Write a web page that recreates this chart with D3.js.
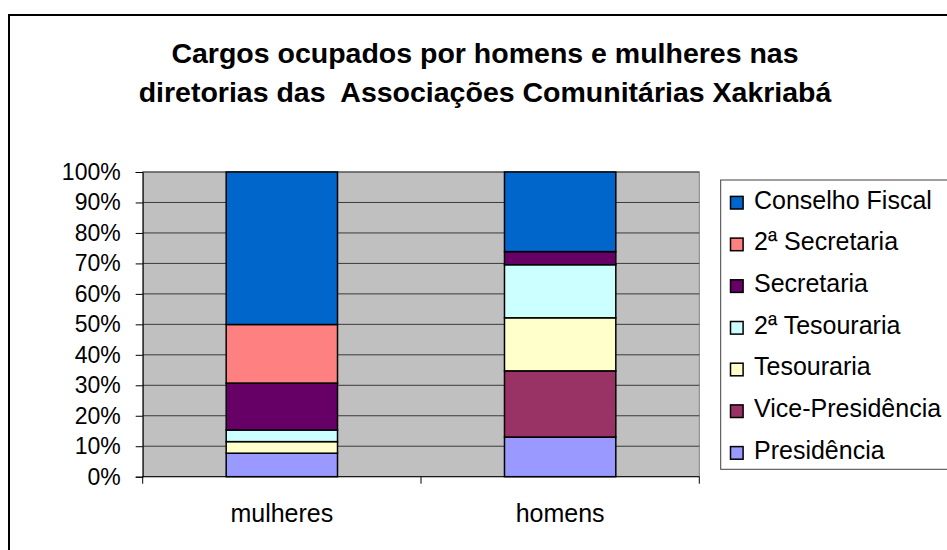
<!DOCTYPE html>
<html>
<head>
<meta charset="utf-8">
<script src="https://cdn.jsdelivr.net/npm/d3@7"></script>
<style>
  body { margin: 0; background: #fff; }
  svg { display: block; font-family: "Liberation Sans", Arial, sans-serif; }
</style>
</head>
<body>
<div id="chart_wrapper"></div>
<script>
// values, in percent (each bar sums to ~100)
const categories = ["mulheres", "homens"];
const cargos = ["Presidência", "Vice-Presidência", "Tesouraria", "2ª Tesouraria", "Secretaria", "2ª Secretaria", "Conselho Fiscal"];
const mulheres = [7.7, 0, 3.8, 3.8, 15.4, 19.2, 50.0];
const homens = [13.0, 21.7, 17.4, 17.4, 4.3, 0, 26.1];
const cargoColors = ["#9999FF", "#993366", "#FFFFCC", "#CCFFFF", "#660066", "#FF8080", "#0066CC"];
const yTicks = [0, 0.1, 0.2, 0.3, 0.4, 0.5, 0.6, 0.7, 0.8, 0.9, 1];
const titleLines = ["Cargos ocupados por homens e mulheres nas", "diretorias das  Associações Comunitárias Xakriabá"];

const W = 947, H = 550;
const plot = { left: 142.7, right: 699.3, top: 172, bottom: 476.7 };

const svg = d3.select("#chart_wrapper").append("svg")
    .attr("width", W)
    .attr("height", H);

// outer chart border (runs off the right and bottom edge)
svg.append("rect")
    .attr("x", 9).attr("y", 15)
    .attr("width", 980).attr("height", 580)
    .attr("fill", "#fff")
    .attr("stroke", "#000")
    .attr("stroke-width", 2);

// title
svg.append("g").selectAll("text")
    .data(titleLines)
    .join("text")
    .attr("x", 485)
    .attr("y", (d, i) => 63 + i * 38.7)
    .attr("text-anchor", "middle")
    .attr("font-size", 28.5)
    .attr("font-weight", "bold")
    .style("white-space", "pre")
    .text(d => d);

const x = d3.scaleBand()
    .domain(categories)
    .range([plot.left, plot.right])
    .paddingInner(0.6)
    .paddingOuter(0.3);

const y = d3.scaleLinear()
    .domain([0, 1])
    .range([plot.bottom, plot.top]);

// plot background
svg.append("rect")
    .attr("x", plot.left).attr("y", plot.top)
    .attr("width", plot.right - plot.left)
    .attr("height", plot.bottom - plot.top)
    .attr("fill", "#C0C0C0")
    .attr("stroke", "#808080")
    .attr("stroke-width", 1);

// gridlines
svg.append("g").selectAll("line")
    .data(yTicks.filter(d => d > 0))
    .join("line")
    .attr("x1", plot.left).attr("x2", plot.right)
    .attr("y1", d => y(d)).attr("y2", d => y(d))
    .attr("stroke", "#3a3a3a")
    .attr("stroke-width", 1);

// stacked data
const table = categories.map((c, ci) => {
    const row = { cat: c };
    const vals = ci === 0 ? mulheres : homens;
    cargos.forEach((k, i) => row[k] = vals[i]);
    return row;
});
const stack = d3.stack().keys(cargos).offset(d3.stackOffsetExpand);
const series = stack(table);
const color = d3.scaleOrdinal().domain(cargos).range(cargoColors);

svg.append("g").selectAll("g")
    .data(series)
    .join("g")
    .attr("fill", d => color(d.key))
    .selectAll("rect")
    .data(d => d.filter(p => p[1] - p[0] > 0))
    .join("rect")
    .attr("x", d => x(d.data.cat))
    .attr("width", x.bandwidth())
    .attr("y", d => y(d[1]))
    .attr("height", d => y(d[0]) - y(d[1]))
    .attr("stroke", "#000")
    .attr("stroke-width", 1.5);

// y axis
const yAxis = svg.append("g")
    .attr("transform", `translate(${plot.left},0)`)
    .call(d3.axisLeft(y).tickValues(yTicks).tickFormat(d3.format(".0%")).tickSize(7).tickPadding(15));
yAxis.select(".domain").attr("stroke", "#000");
yAxis.selectAll(".tick line").attr("stroke", "#000");
yAxis.selectAll("text").attr("font-size", 23).attr("fill", "#000")
    .attr("font-family", "'Liberation Sans', Arial, sans-serif");

// x axis: line plus ticks at category boundaries
svg.append("line")
    .attr("x1", plot.left).attr("x2", plot.right)
    .attr("y1", plot.bottom).attr("y2", plot.bottom)
    .attr("stroke", "#000");
const bounds = d3.range(categories.length + 1).map(i => plot.left + i * x.step());
svg.append("g").selectAll("line")
    .data(bounds)
    .join("line")
    .attr("x1", d => d).attr("x2", d => d)
    .attr("y1", plot.bottom).attr("y2", plot.bottom + 7)
    .attr("stroke", "#000");
svg.append("g").selectAll("text")
    .data(categories)
    .join("text")
    .attr("x", d => x(d) + x.bandwidth() / 2)
    .attr("y", 521.7)
    .attr("text-anchor", "middle")
    .attr("font-size", 25)
    .text(d => d);

// legend, top entry is the top of the stack
const legendItems = cargos.slice().reverse();
const legend = svg.append("g");
legend.append("rect")
    .attr("x", 720.7).attr("y", 180)
    .attr("width", 300).attr("height", 289.3)
    .attr("fill", "#fff")
    .attr("stroke", "#404040")
    .attr("stroke-width", 1);
const li = legend.selectAll("g.item")
    .data(legendItems)
    .join("g")
    .attr("class", "item")
    .attr("transform", (d, i) => `translate(0,${202.7 + i * 41.7})`);
li.append("rect")
    .attr("x", 730.5).attr("y", -6.3)
    .attr("width", 12.6).attr("height", 12.6)
    .attr("fill", d => color(d))
    .attr("stroke", "#000")
    .attr("stroke-width", 1.5);
li.append("text")
    .attr("x", 754)
    .attr("y", 5.8)
    .attr("font-size", 25)
    .text(d => d);
</script>
</body>
</html>
